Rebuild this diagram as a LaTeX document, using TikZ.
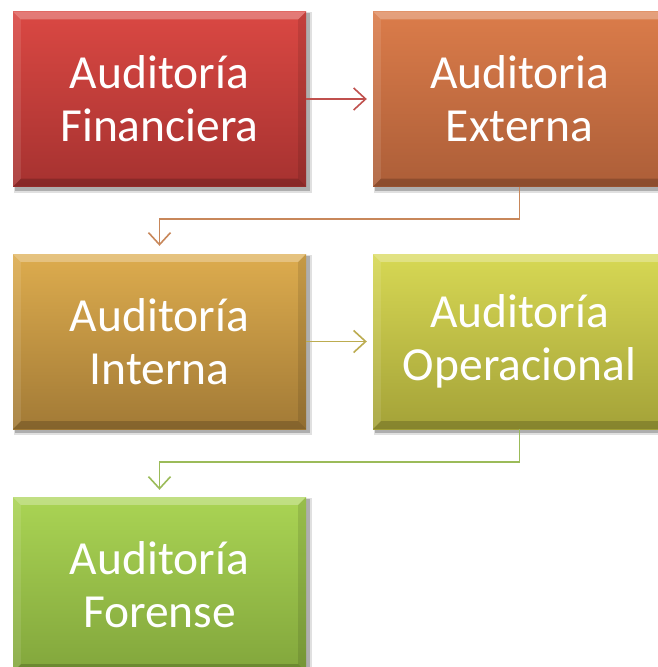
\documentclass[tikz,border=0pt]{standalone}
\usepackage{fontspec}
\setmainfont{Carlito}
\usetikzlibrary{arrows.meta}
\definecolor{c1t}{RGB}{218,72,67}\definecolor{c1b}{RGB}{166,50,48}
\definecolor{c2t}{RGB}{219,124,74}\definecolor{c2b}{RGB}{172,94,56}
\definecolor{c3t}{RGB}{221,172,78}\definecolor{c3b}{RGB}{162,122,54}
\definecolor{c4t}{RGB}{215,216,84}\definecolor{c4b}{RGB}{164,162,56}
\definecolor{c5t}{RGB}{170,212,84}\definecolor{c5b}{RGB}{130,166,60}
\definecolor{a1}{RGB}{192,80,77}\definecolor{a2}{RGB}{200,135,90}
\definecolor{a3}{RGB}{188,172,80}\definecolor{a4}{RGB}{155,187,89}
\tikzset{
  bbox/.style={minimum width=293pt,minimum height=175pt,inner sep=0pt,
    text=white,align=center,font=\fontsize{47.5}{53}\selectfont},
  conn/.style={line width=1.6pt,-{Straight Barb[length=12pt,width=22pt,line width=1.6pt]}}
}
\newcommand\bevel[1]{%
  \fill[black,opacity=0.22] ([xshift=2pt,yshift=-4pt]#1.south west) rectangle ([xshift=4pt,yshift=-2pt]#1.north east);
  \fill[black,opacity=0.12] ([xshift=1pt,yshift=-6pt]#1.south west) rectangle ([xshift=6pt,yshift=-1pt]#1.north east);
}
\newcommand\bevtop[1]{%
  \fill[white,opacity=0.28] (#1.north west) -- (#1.north east) -- ([xshift=-8pt,yshift=-8pt]#1.north east) -- ([xshift=8pt,yshift=-8pt]#1.north west) -- cycle;
  \fill[white,opacity=0.10] (#1.north west) -- ([xshift=8pt,yshift=-8pt]#1.north west) -- ([xshift=8pt,yshift=8pt]#1.south west) -- (#1.south west) -- cycle;
  \fill[black,opacity=0.10] (#1.north east) -- ([xshift=-8pt,yshift=-8pt]#1.north east) -- ([xshift=-8pt,yshift=8pt]#1.south east) -- (#1.south east) -- cycle;
  \fill[black,opacity=0.18] (#1.south west) -- (#1.south east) -- ([xshift=-8pt,yshift=8pt]#1.south east) -- ([xshift=8pt,yshift=8pt]#1.south west) -- cycle;
}
\begin{document}
\begin{tikzpicture}[x=1pt,y=-1pt]
\useasboundingbox (0,0) rectangle (658,667);
\clip (0,0) rectangle (658,667);
\path[fill=white] (0,0) rectangle (658,667);
\node[bbox] (n1) at (159.5,99) {};
\node[bbox] (n2) at (519.5,99) {};
\node[bbox] (n3) at (159.5,341.5) {};
\node[bbox] (n4) at (519.5,341.5) {};
\node[bbox] (n5) at (159.5,584.5) {};
\bevel{n1}\bevel{n2}\bevel{n3}\bevel{n4}\bevel{n5}
\node[bbox,top color=c1t,bottom color=c1b] (b1) at (n1) {};
\node[bbox,top color=c2t,bottom color=c2b] (b2) at (n2) {};
\node[bbox,top color=c3t,bottom color=c3b] (b3) at (n3) {};
\node[bbox,top color=c4t,bottom color=c4b] (b4) at (n4) {};
\node[bbox,top color=c5t,bottom color=c5b] (b5) at (n5) {};
\bevtop{b1}\bevtop{b2}\bevtop{b3}\bevtop{b4}\bevtop{b5}
\node[bbox] (t1) at (b1) {Auditoría\\Financiera};
\node[bbox] (t2) at (b2) {Auditoria\\Externa};
\node[bbox] (t3) at (b3) {Auditoría\\Interna};
\node[bbox] (t4) at (b4) {Auditoría\\Operacional};
\node[bbox] (t5) at (b5) {Auditoría\\Forense};
\draw[conn,a1,shorten >=6pt] (b1.east) -- (b2.west);
\draw[conn,a2,shorten >=8pt] (b2.south) -- ++(0,32.5) -| (b3.north);
\draw[conn,a3,shorten >=6pt] (b3.east) -- (b4.west);
\draw[conn,a4,shorten >=7pt] (b4.south) -- ++(0,33) -| (b5.north);
\end{tikzpicture}
\end{document}
